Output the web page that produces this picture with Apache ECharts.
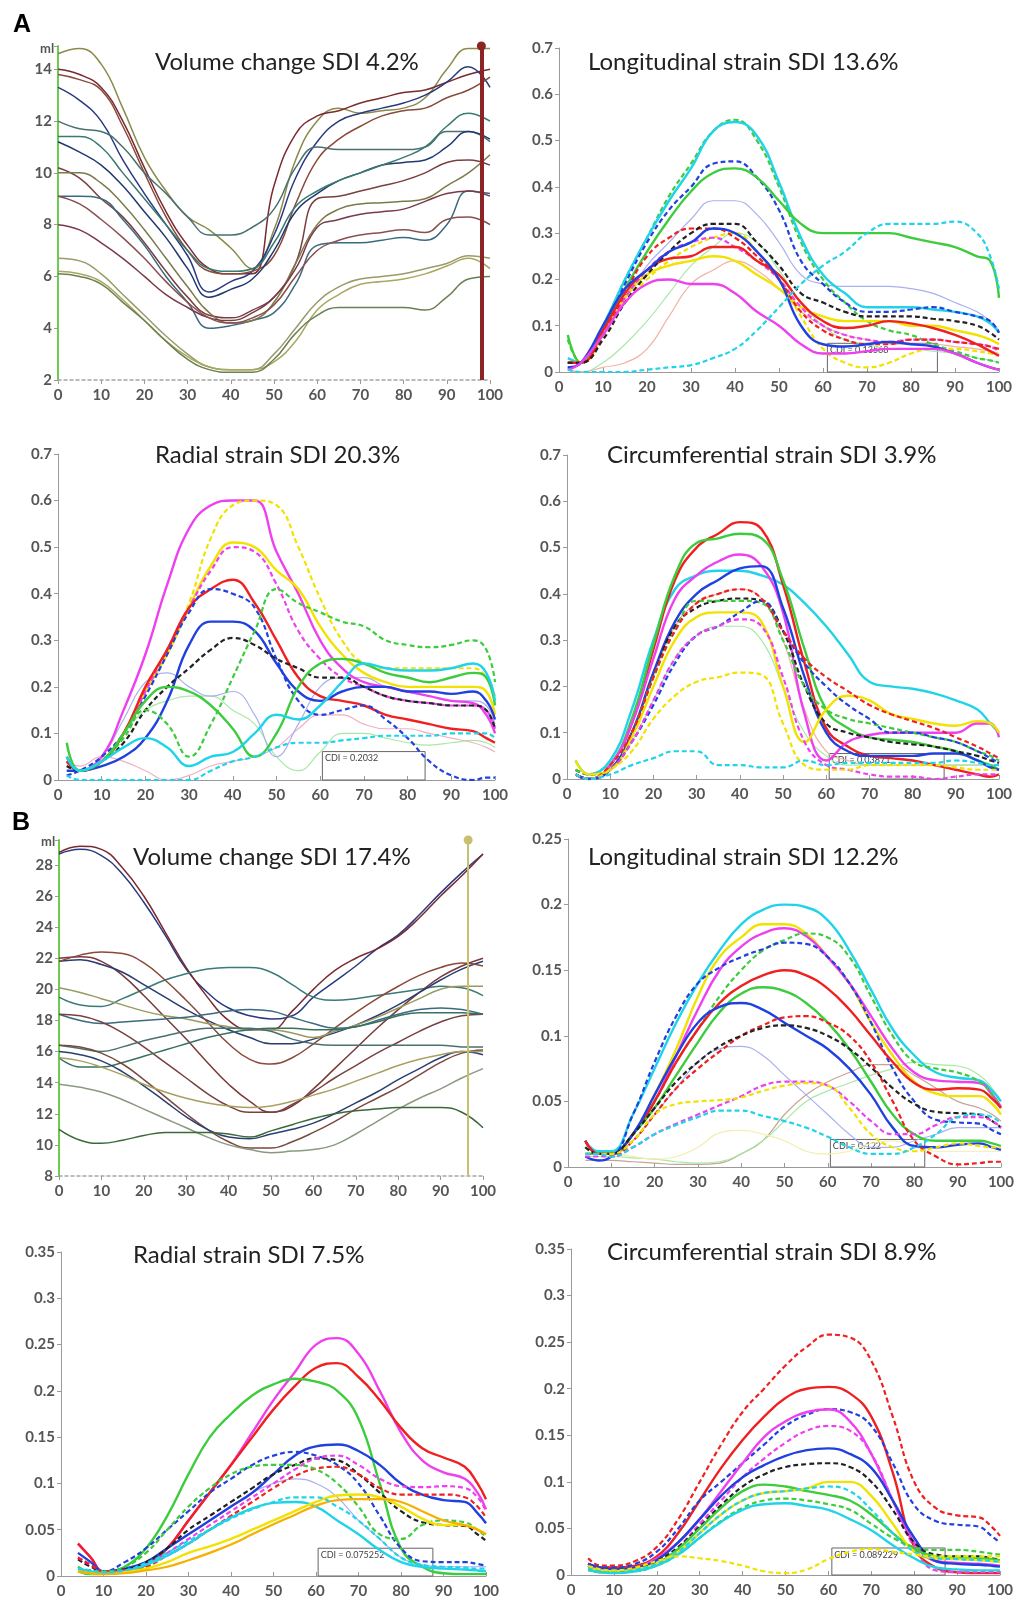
<!DOCTYPE html>
<html>
<head>
<meta charset="utf-8">
<script src="https://cdn.jsdelivr.net/npm/echarts@6/dist/echarts.min.js"></script>
<style>
  html, body { margin: 0; padding: 0; background: #fff; }
  #chart { width: 1017px; height: 1602px; }
</style>
</head>
<body>
<div id="chart"></div>
<script>
// x samples (percent of cycle)
var xVol = [0,5,10,15,20,25,30,35,40,45,50,55,60,65,70,75,80,85,90,95,100];
var xStrainA = [2,5,10,15,20,25,30,35,40,45,50,55,60,65,70,75,80,85,90,95,98,100];
var xStrainB = [4,7,10,15,20,25,30,35,40,45,50,55,60,65,70,75,80,85,90,95,98,100];

// ---- A: volume change (ml) ----
var volA = [
  [14.6,14.8,14.2,12.5,10.6,9.3,8.3,7.8,7.1,6.3,7.8,10.5,12.0,12.5,12.3,12.4,12.5,12.9,14.0,14.8,14.8],
  [14.0,13.8,13.3,12.0,10.2,8.5,7.2,6.3,6.1,6.1,9.5,11.5,12.2,12.4,12.7,12.9,13.1,13.2,13.5,13.8,14.0],
  [13.3,12.8,12.0,10.5,9.2,8.0,6.8,5.4,5.8,6.2,7.6,9.8,11.2,12.0,12.3,12.5,12.7,13.0,13.5,14.1,13.3],
  [13.8,13.6,13.2,11.8,10.0,8.3,7.0,6.2,6.1,6.2,6.8,8.8,10.5,11.3,11.8,12.2,12.4,12.5,12.9,13.2,13.7],
  [12.0,11.7,11.6,11.0,10.0,9.2,8.3,7.6,7.6,7.9,8.6,10.2,11.0,10.9,10.9,10.9,10.9,11.0,11.6,11.6,11.2],
  [11.2,10.8,10.3,9.5,8.5,7.5,6.3,5.2,5.5,5.9,7.0,8.5,9.2,9.7,10.0,10.3,10.4,10.5,11.0,11.6,11.3],
  [11.4,11.4,11.0,10.0,9.0,8.0,7.0,6.3,6.2,6.3,7.3,8.7,9.3,9.7,10.0,10.3,10.6,11.0,11.8,12.3,12.0],
  [10.2,9.8,9.0,8.3,7.3,6.2,5.2,4.5,4.4,4.7,5.2,6.5,9.0,9.1,9.3,9.5,9.7,10.0,10.4,10.5,10.3],
  [9.1,9.1,9.0,8.2,7.2,6.0,5.0,4.0,4.1,4.3,4.6,5.7,7.2,7.3,7.3,7.4,7.5,7.4,8.0,9.3,9.2],
  [10.0,10.0,9.6,8.8,7.8,6.7,5.6,4.6,4.2,4.3,5.0,6.5,8.0,8.6,8.8,8.85,8.9,9.0,9.5,10.0,10.7],
  [8.0,7.8,7.3,6.7,6.0,5.3,4.8,4.4,4.3,4.6,5.2,6.3,7.9,8.2,8.4,8.5,8.6,8.9,9.2,9.3,9.1],
  [6.7,6.6,6.1,5.3,4.5,3.7,3.0,2.5,2.4,2.4,3.0,4.0,5.0,5.6,5.9,6.0,6.1,6.3,6.5,6.8,6.7],
  [6.2,6.1,5.8,5.1,4.3,3.5,2.9,2.5,2.4,2.4,2.7,3.5,4.7,5.3,5.7,5.8,5.9,6.1,6.4,6.7,6.3],
  [6.1,6.0,5.7,5.0,4.3,3.5,2.8,2.4,2.3,2.3,2.8,3.8,4.5,4.8,4.8,4.8,4.8,4.7,5.2,5.9,6.0],
  [9.1,8.8,8.2,7.5,6.7,5.8,5.0,4.4,4.2,4.4,4.9,6.0,7.0,7.4,7.6,7.7,7.8,7.7,8.2,8.3,8.0]
];
var volAColors = ['#8a8a4a','#7a2a30','#2a3a80','#8a4a3a','#4a7070','#203a70','#3a7a70','#7a4040',
  '#3a6a80','#7a7a4a','#7a3a4a','#9a9a6a','#a8a860','#6a8050','#8a5050'];

// ---- A: longitudinal strain ----
var longA = [
  [0.005,0,0.02,0.06,0.11,0.17,0.23,0.27,0.30,0.28,0.22,0.15,0.10,0.07,0.06,0.05,0.05,0.045,0.04,0.03,0.025,0.02],
  [0.005,0,0.01,0.02,0.05,0.12,0.19,0.22,0.24,0.22,0.18,0.13,0.10,0.08,0.07,0.06,0.06,0.06,0.055,0.05,0.045,0.04],
  [0.01,0.02,0.08,0.16,0.23,0.28,0.33,0.37,0.37,0.34,0.28,0.21,0.19,0.185,0.185,0.185,0.18,0.17,0.15,0.13,0.11,0.09],
  [0.07,0.02,0.10,0.20,0.29,0.38,0.45,0.52,0.545,0.50,0.40,0.28,0.20,0.15,0.11,0.09,0.08,0.06,0.045,0.03,0.025,0.02],
  [0.03,0.02,0.10,0.20,0.29,0.37,0.44,0.52,0.54,0.51,0.41,0.29,0.21,0.17,0.14,0.14,0.14,0.135,0.13,0.12,0.105,0.085],
  [0.02,0.02,0.09,0.19,0.28,0.35,0.40,0.45,0.455,0.42,0.35,0.24,0.19,0.15,0.13,0.13,0.135,0.14,0.13,0.12,0.11,0.085],
  [0.08,0.02,0.09,0.18,0.26,0.33,0.39,0.43,0.44,0.42,0.37,0.32,0.30,0.30,0.30,0.30,0.29,0.28,0.27,0.25,0.24,0.16],
  [0.02,0.02,0.08,0.15,0.20,0.24,0.27,0.29,0.30,0.26,0.20,0.12,0.05,0.02,0.01,0.02,0.04,0.05,0.05,0.045,0.04,0.035],
  [0.02,0.02,0.08,0.16,0.21,0.23,0.24,0.25,0.24,0.21,0.18,0.14,0.12,0.11,0.11,0.11,0.10,0.10,0.09,0.08,0.07,0.06],
  [0.01,0.02,0.08,0.16,0.22,0.26,0.28,0.29,0.27,0.24,0.20,0.14,0.10,0.08,0.07,0.065,0.07,0.07,0.065,0.06,0.055,0.045],
  [0.02,0.02,0.08,0.17,0.25,0.29,0.31,0.31,0.29,0.25,0.20,0.13,0.09,0.07,0.06,0.06,0.07,0.07,0.065,0.06,0.055,0.05],
  [0.02,0.02,0.09,0.17,0.22,0.245,0.25,0.27,0.27,0.24,0.21,0.15,0.11,0.095,0.10,0.11,0.105,0.095,0.08,0.06,0.045,0.035],
  [0.02,0.02,0.07,0.15,0.21,0.26,0.30,0.32,0.32,0.28,0.23,0.17,0.15,0.13,0.12,0.12,0.12,0.115,0.11,0.10,0.085,0.07],
  [0.01,0.02,0.10,0.18,0.22,0.26,0.28,0.31,0.30,0.26,0.20,0.10,0.06,0.055,0.06,0.065,0.06,0.055,0.04,0.02,0.01,0.005],
  [0.005,0.02,0.08,0.15,0.19,0.20,0.19,0.19,0.17,0.13,0.10,0.06,0.04,0.04,0.045,0.05,0.05,0.05,0.04,0.02,0.01,0.005],
  [0.005,0,0,0,0.005,0.01,0.015,0.03,0.05,0.09,0.14,0.19,0.23,0.26,0.30,0.32,0.32,0.32,0.325,0.30,0.25,0.18]
];
var longAStyle = ['fg','fs','fl','gd','c','bd','g','yd','y','md','rd','r','kd','b','m','cd'];

// ---- A: radial strain ----
var radA = [
  [0.03,0.02,0.04,0.10,0.15,0.17,0.18,0.18,0.15,0.12,0.05,0.02,0.06,0.10,0.10,0.09,0.08,0.075,0.08,0.085,0.08,0.07],
  [0.04,0.03,0.05,0.04,0.02,0.0,0.01,0.03,0.04,0.05,0.07,0.11,0.14,0.14,0.12,0.11,0.11,0.10,0.09,0.08,0.07,0.06],
  [0.02,0.02,0.05,0.13,0.21,0.23,0.20,0.18,0.19,0.14,0.05,0.12,0.20,0.22,0.22,0.20,0.19,0.18,0.17,0.17,0.16,0.12],
  [0.05,0.02,0.05,0.15,0.27,0.42,0.54,0.59,0.60,0.60,0.49,0.40,0.30,0.24,0.21,0.20,0.19,0.18,0.17,0.165,0.14,0.10],
  [0.04,0.02,0.04,0.10,0.20,0.28,0.38,0.52,0.59,0.60,0.59,0.50,0.39,0.30,0.25,0.24,0.24,0.24,0.24,0.24,0.22,0.18],
  [0.04,0.02,0.04,0.10,0.19,0.27,0.37,0.46,0.51,0.50,0.45,0.41,0.33,0.27,0.23,0.21,0.20,0.20,0.20,0.20,0.19,0.14],
  [0.04,0.02,0.04,0.10,0.19,0.28,0.37,0.45,0.50,0.49,0.42,0.32,0.26,0.22,0.20,0.18,0.17,0.165,0.16,0.16,0.15,0.11],
  [0.04,0.02,0.04,0.10,0.20,0.28,0.37,0.41,0.43,0.38,0.30,0.22,0.18,0.17,0.16,0.14,0.13,0.12,0.11,0.105,0.09,0.08],
  [0.01,0.02,0.05,0.10,0.18,0.27,0.36,0.41,0.40,0.37,0.26,0.17,0.14,0.15,0.16,0.13,0.09,0.04,0.01,0.0,0.005,0.005],
  [0.02,0.02,0.03,0.05,0.09,0.17,0.29,0.34,0.34,0.32,0.25,0.19,0.17,0.19,0.20,0.20,0.19,0.19,0.185,0.19,0.17,0.13],
  [0.03,0.02,0.04,0.08,0.15,0.20,0.24,0.28,0.305,0.29,0.26,0.24,0.22,0.22,0.20,0.18,0.17,0.165,0.16,0.16,0.15,0.11],
  [0.05,0.02,0.04,0.09,0.15,0.12,0.05,0.12,0.22,0.32,0.41,0.38,0.36,0.34,0.33,0.30,0.29,0.285,0.29,0.30,0.28,0.21],
  [0.08,0.02,0.04,0.10,0.17,0.20,0.19,0.16,0.11,0.05,0.10,0.20,0.25,0.26,0.25,0.23,0.22,0.21,0.22,0.23,0.22,0.16],
  [0.05,0.02,0.04,0.07,0.09,0.07,0.03,0.05,0.06,0.10,0.14,0.13,0.16,0.21,0.25,0.24,0.235,0.235,0.24,0.25,0.23,0.17],
  [0.01,0,0,0,0,0,0,0.02,0.04,0.05,0.07,0.08,0.08,0.085,0.09,0.095,0.095,0.095,0.10,0.10,0.10,0.09]
];
var radAStyle = ['fg','fp','fl','m','yd','y','md','r','bd','b','kd','gd','g','c','cd'];

// ---- A: circumferential strain ----
var circA = [
  [0.01,0,0.02,0.10,0.22,0.33,0.38,0.40,0.41,0.39,0.30,0.15,0.06,0.04,0.03,0.03,0.03,0.03,0.03,0.03,0.03,0.03],
  [0.01,0,0.02,0.08,0.17,0.26,0.31,0.33,0.33,0.30,0.20,0.10,0.05,0.03,0.03,0.03,0.03,0.03,0.03,0.03,0.03,0.03],
  [0.04,0.01,0.04,0.15,0.30,0.41,0.44,0.45,0.45,0.44,0.42,0.38,0.33,0.27,0.21,0.20,0.195,0.185,0.17,0.15,0.12,0.10],
  [0.01,0,0.03,0.12,0.28,0.43,0.50,0.53,0.555,0.54,0.42,0.25,0.11,0.07,0.05,0.045,0.04,0.03,0.02,0.01,0.005,0.01],
  [0.01,0,0.03,0.13,0.29,0.44,0.51,0.52,0.53,0.52,0.43,0.28,0.15,0.11,0.09,0.085,0.08,0.07,0.06,0.04,0.03,0.02],
  [0.01,0,0.03,0.12,0.26,0.39,0.44,0.47,0.485,0.46,0.36,0.14,0.04,0.08,0.095,0.10,0.10,0.10,0.10,0.12,0.12,0.09],
  [0.01,0,0.02,0.10,0.23,0.34,0.40,0.43,0.455,0.46,0.37,0.22,0.10,0.06,0.05,0.05,0.05,0.055,0.055,0.04,0.025,0.02],
  [0.02,0.01,0.02,0.10,0.22,0.33,0.37,0.385,0.39,0.385,0.32,0.20,0.12,0.10,0.09,0.08,0.075,0.07,0.06,0.05,0.04,0.035],
  [0.02,0.01,0.02,0.10,0.22,0.32,0.385,0.385,0.385,0.38,0.30,0.20,0.15,0.13,0.12,0.11,0.10,0.09,0.08,0.06,0.05,0.04],
  [0.04,0.01,0.02,0.09,0.20,0.30,0.35,0.36,0.36,0.34,0.20,0.08,0.15,0.18,0.17,0.14,0.13,0.12,0.115,0.125,0.12,0.10],
  [0.01,0,0.02,0.08,0.16,0.25,0.31,0.33,0.36,0.385,0.32,0.25,0.20,0.16,0.13,0.10,0.10,0.09,0.08,0.06,0.045,0.035],
  [0.01,0,0.03,0.10,0.22,0.32,0.38,0.40,0.41,0.39,0.32,0.26,0.22,0.19,0.16,0.14,0.125,0.11,0.09,0.07,0.055,0.045],
  [0.01,0,0.02,0.08,0.17,0.26,0.31,0.33,0.345,0.33,0.22,0.08,0.03,0.02,0.01,0.005,0.005,0,0.005,0.01,0.01,0.01],
  [0.01,0,0.02,0.06,0.13,0.18,0.21,0.22,0.23,0.225,0.12,0.03,0.02,0.02,0.03,0.03,0.03,0.03,0.025,0.02,0.02,0.02],
  [0.01,0,0.01,0.03,0.045,0.06,0.06,0.03,0.03,0.025,0.025,0.04,0.03,0.035,0.035,0.035,0.035,0.035,0.04,0.035,0.03,0.03]
];
var circAStyle = ['fs','fg','c','r','g','m','b','kd','gd','y','bd','rd','md','yd','cd'];

// ---- B: volume change (ml) ----
var volB = [
  [28.7,29.0,28.6,27.4,25.6,23.5,21.3,19.8,18.8,18.3,18.1,18.3,19.5,20.5,21.5,22.6,23.5,24.8,26.2,27.5,28.7],
  [28.8,29.2,29.0,27.8,26.0,23.7,21.4,19.5,18.0,17.4,17.4,18.6,20.0,21.2,22.0,22.6,23.4,24.6,26.0,27.3,28.7],
  [19.5,19.0,18.9,19.4,20.0,20.6,21.0,21.3,21.4,21.4,21.1,20.3,19.5,19.3,19.4,19.6,19.8,20.0,20.2,20.1,19.6],
  [22.0,22.1,21.8,20.9,19.6,18.2,16.8,15.3,13.9,12.8,12.1,12.5,13.6,14.9,16.2,17.5,18.7,19.8,20.8,21.5,22.0],
  [21.8,21.9,21.6,21.1,20.3,19.5,18.7,18.0,17.4,16.9,16.5,16.5,16.8,17.2,17.7,18.3,19.0,19.8,20.6,21.3,21.8],
  [21.8,22.2,22.4,22.3,21.7,20.6,19.3,17.9,16.5,15.5,15.2,15.6,16.5,17.5,18.5,19.4,20.2,20.9,21.4,21.7,21.5],
  [20.1,19.8,19.4,19.0,18.6,18.3,18.1,17.8,17.6,17.4,17.4,17.2,16.9,17.3,17.7,18.2,18.8,19.4,20.0,20.2,20.2],
  [18.4,18.0,17.8,17.9,18.0,18.1,18.2,18.4,18.6,18.7,18.6,18.2,17.8,17.5,17.6,18.0,18.4,18.7,18.8,18.7,18.4],
  [18.4,18.3,17.9,17.2,16.3,15.3,14.3,13.3,12.5,12.1,12.1,12.6,13.4,14.3,15.1,15.9,16.6,17.3,17.9,18.3,18.4],
  [15.6,15.0,15.0,15.3,15.7,16.1,16.5,16.9,17.2,17.4,17.5,17.5,17.4,17.4,17.6,17.9,18.3,18.5,18.5,18.5,18.4],
  [16.4,16.2,16.0,16.3,16.7,17.0,17.3,17.5,17.5,17.5,17.3,16.8,16.5,16.4,16.4,16.4,16.4,16.4,16.4,16.3,16.3],
  [16.4,16.3,15.9,15.2,14.2,13.1,12.0,11.0,10.2,9.8,9.8,10.2,10.8,11.5,12.3,13.0,13.7,14.5,15.3,15.9,16.1],
  [16.0,15.8,15.4,14.7,13.8,12.8,11.8,11.0,10.5,10.4,10.7,11.0,11.4,12.0,12.7,13.4,14.2,14.9,15.6,16.0,15.8],
  [15.6,15.4,15.0,14.5,13.9,13.4,13.0,12.7,12.5,12.4,12.5,12.8,13.2,13.6,14.1,14.6,15.1,15.5,15.8,16.0,16.0],
  [13.9,13.7,13.4,12.9,12.3,11.7,11.1,10.5,10.0,9.7,9.5,9.6,9.7,10.0,10.7,11.5,12.3,13.0,13.6,14.3,14.9],
  [11.0,10.3,10.1,10.3,10.6,10.8,10.8,10.8,10.7,10.5,10.9,11.3,11.7,12.0,12.2,12.3,12.4,12.4,12.4,12.1,11.1]
];
var volBColors = ['#2a3a80','#7a2a30','#3a7a78','#7a3a3a','#2a3c70','#8a4a3a','#9a9a60','#3a6a80',
  '#7a4040','#3a7060','#4a7070','#7a4a40','#2a4070','#a8a060','#8a9a80','#3a6a3a'];

// ---- B: longitudinal strain ----
var longB = [
  [0.005,0.005,0.005,0.004,0.003,0.002,0.002,0.003,0.01,0.02,0.04,0.055,0.065,0.072,0.078,0.078,0.07,0.06,0.05,0.045,0.04,0.035],
  [0.008,0.008,0.008,0.007,0.006,0.004,0.003,0.004,0.01,0.02,0.035,0.05,0.058,0.064,0.07,0.075,0.08,0.078,0.077,0.07,0.06,0.05],
  [0.01,0.01,0.01,0.008,0.006,0.008,0.015,0.026,0.028,0.025,0.02,0.012,0.01,0.012,0.018,0.02,0.015,0.012,0.012,0.012,0.012,0.012],
  [0.01,0.01,0.01,0.02,0.04,0.06,0.08,0.09,0.092,0.085,0.07,0.055,0.04,0.025,0.015,0.015,0.02,0.025,0.03,0.03,0.03,0.03],
  [0.02,0.012,0.012,0.04,0.075,0.11,0.14,0.165,0.185,0.196,0.20,0.198,0.188,0.165,0.135,0.105,0.085,0.072,0.068,0.066,0.058,0.05],
  [0.02,0.01,0.01,0.025,0.055,0.09,0.13,0.16,0.175,0.185,0.185,0.178,0.16,0.14,0.11,0.085,0.065,0.056,0.054,0.054,0.048,0.04],
  [0.02,0.01,0.01,0.025,0.05,0.085,0.12,0.15,0.168,0.178,0.182,0.176,0.16,0.14,0.115,0.09,0.072,0.066,0.065,0.064,0.055,0.046],
  [0.015,0.01,0.01,0.025,0.05,0.08,0.105,0.13,0.15,0.165,0.173,0.178,0.175,0.16,0.13,0.10,0.08,0.075,0.072,0.065,0.055,0.045],
  [0.02,0.01,0.01,0.04,0.08,0.115,0.14,0.152,0.16,0.166,0.171,0.17,0.16,0.14,0.11,0.075,0.05,0.036,0.034,0.033,0.028,0.025],
  [0.02,0.01,0.01,0.025,0.05,0.08,0.105,0.125,0.138,0.146,0.15,0.146,0.136,0.12,0.10,0.08,0.064,0.059,0.06,0.059,0.052,0.045],
  [0.01,0.01,0.01,0.025,0.045,0.07,0.095,0.118,0.132,0.137,0.134,0.125,0.11,0.09,0.065,0.04,0.025,0.02,0.02,0.02,0.018,0.016],
  [0.008,0.005,0.008,0.025,0.055,0.085,0.11,0.122,0.125,0.12,0.11,0.10,0.09,0.075,0.055,0.03,0.016,0.015,0.017,0.018,0.015,0.013],
  [0.01,0.01,0.008,0.02,0.04,0.06,0.075,0.088,0.10,0.108,0.114,0.115,0.11,0.10,0.08,0.05,0.02,0.008,0.002,0.003,0.004,0.004],
  [0.015,0.01,0.01,0.025,0.045,0.065,0.08,0.092,0.10,0.106,0.108,0.106,0.10,0.09,0.076,0.06,0.048,0.042,0.041,0.04,0.035,0.03],
  [0.008,0.008,0.008,0.015,0.025,0.033,0.04,0.047,0.054,0.062,0.065,0.065,0.062,0.05,0.035,0.025,0.025,0.032,0.038,0.038,0.035,0.03],
  [0.01,0.01,0.01,0.02,0.04,0.048,0.05,0.051,0.053,0.058,0.062,0.064,0.062,0.045,0.025,0.015,0.012,0.015,0.018,0.016,0.015,0.015],
  [0.01,0.01,0.008,0.015,0.025,0.032,0.038,0.043,0.043,0.039,0.035,0.03,0.023,0.015,0.01,0.01,0.015,0.025,0.038,0.04,0.038,0.033]
];
var longBStyle = ['fb','fg','fy','fl','c','y','m','gd','bd','r','g','b','rd','kd','md','yd','cd'];

// ---- B: radial strain ----
var radB = [
  [0.01,0.005,0.004,0.008,0.015,0.03,0.045,0.06,0.075,0.09,0.10,0.105,0.10,0.085,0.06,0.04,0.02,0.012,0.01,0.01,0.01,0.01],
  [0.035,0.02,0.005,0.005,0.012,0.03,0.06,0.09,0.12,0.155,0.19,0.22,0.25,0.257,0.24,0.20,0.155,0.125,0.112,0.105,0.09,0.072],
  [0.035,0.02,0.005,0.006,0.012,0.03,0.06,0.09,0.12,0.15,0.18,0.205,0.225,0.23,0.215,0.19,0.16,0.138,0.128,0.118,0.10,0.083],
  [0.005,0.002,0.003,0.01,0.03,0.065,0.11,0.15,0.175,0.195,0.207,0.213,0.21,0.20,0.17,0.10,0.03,0.01,0.003,0.002,0.002,0.002],
  [0.025,0.015,0.005,0.008,0.015,0.03,0.045,0.06,0.075,0.09,0.11,0.13,0.14,0.142,0.135,0.12,0.10,0.088,0.082,0.08,0.068,0.057],
  [0.008,0.006,0.005,0.015,0.03,0.05,0.07,0.09,0.105,0.12,0.13,0.134,0.13,0.12,0.10,0.065,0.03,0.016,0.015,0.015,0.013,0.011],
  [0.018,0.01,0.005,0.007,0.015,0.03,0.05,0.065,0.08,0.095,0.11,0.12,0.127,0.125,0.11,0.09,0.07,0.058,0.055,0.054,0.045,0.038],
  [0.02,0.012,0.005,0.006,0.012,0.025,0.04,0.055,0.07,0.085,0.10,0.115,0.127,0.13,0.12,0.105,0.097,0.096,0.097,0.095,0.085,0.07],
  [0.02,0.012,0.005,0.006,0.01,0.022,0.035,0.05,0.065,0.08,0.095,0.108,0.116,0.118,0.11,0.095,0.088,0.088,0.088,0.085,0.075,0.063],
  [0.01,0.005,0.005,0.01,0.025,0.05,0.075,0.095,0.11,0.118,0.12,0.12,0.115,0.10,0.075,0.045,0.04,0.055,0.06,0.058,0.05,0.042],
  [0.008,0.005,0.003,0.005,0.012,0.022,0.035,0.05,0.063,0.073,0.079,0.08,0.075,0.06,0.045,0.028,0.015,0.01,0.008,0.007,0.006,0.005],
  [0.005,0.003,0.002,0.004,0.008,0.015,0.025,0.032,0.04,0.05,0.06,0.07,0.08,0.087,0.088,0.085,0.075,0.062,0.055,0.055,0.05,0.045],
  [0.005,0.003,0.002,0.003,0.006,0.01,0.017,0.025,0.034,0.045,0.056,0.066,0.076,0.082,0.083,0.083,0.08,0.07,0.06,0.055,0.05,0.045],
  [0.008,0.006,0.004,0.006,0.014,0.025,0.038,0.05,0.062,0.072,0.08,0.085,0.085,0.075,0.06,0.04,0.02,0.012,0.01,0.009,0.008,0.008]
];
var radBStyle = ['fl','m','r','g','b','bd','kd','md','rd','gd','c','y','o','cd'];

// ---- B: circumferential strain ----
var circB = [
  [0.018,0.01,0.01,0.015,0.03,0.06,0.10,0.14,0.175,0.20,0.225,0.245,0.258,0.255,0.23,0.17,0.10,0.072,0.064,0.062,0.052,0.042],
  [0.012,0.008,0.008,0.01,0.02,0.045,0.08,0.115,0.145,0.17,0.19,0.20,0.202,0.195,0.17,0.11,0.03,0.008,0.003,0.002,0.002,0.002],
  [0.012,0.008,0.008,0.012,0.025,0.05,0.08,0.10,0.12,0.14,0.16,0.172,0.178,0.175,0.16,0.12,0.075,0.058,0.054,0.052,0.042,0.035],
  [0.01,0.006,0.006,0.008,0.018,0.035,0.06,0.09,0.12,0.148,0.165,0.175,0.178,0.165,0.13,0.08,0.035,0.015,0.013,0.012,0.011,0.01],
  [0.01,0.006,0.006,0.008,0.015,0.03,0.055,0.08,0.105,0.125,0.142,0.155,0.16,0.155,0.13,0.08,0.03,0.005,0.003,0.003,0.003,0.003],
  [0.012,0.008,0.006,0.008,0.016,0.035,0.06,0.085,0.105,0.118,0.128,0.134,0.136,0.13,0.115,0.08,0.04,0.015,0.012,0.011,0.01,0.009],
  [0.01,0.006,0.005,0.008,0.015,0.03,0.052,0.075,0.095,0.108,0.116,0.119,0.12,0.116,0.10,0.07,0.035,0.022,0.02,0.02,0.018,0.016],
  [0.006,0.003,0.003,0.005,0.012,0.028,0.05,0.072,0.09,0.097,0.095,0.09,0.086,0.08,0.065,0.045,0.028,0.02,0.018,0.018,0.017,0.016],
  [0.008,0.005,0.004,0.006,0.012,0.025,0.045,0.065,0.08,0.088,0.09,0.093,0.10,0.10,0.085,0.055,0.025,0.018,0.017,0.016,0.015,0.014],
  [0.008,0.005,0.004,0.006,0.012,0.025,0.045,0.065,0.08,0.088,0.09,0.093,0.095,0.09,0.07,0.045,0.025,0.018,0.017,0.016,0.015,0.014],
  [0.006,0.003,0.003,0.004,0.01,0.022,0.04,0.058,0.072,0.08,0.082,0.08,0.076,0.07,0.055,0.04,0.03,0.027,0.027,0.025,0.023,0.022],
  [0.005,0.003,0.002,0.004,0.01,0.022,0.04,0.057,0.07,0.076,0.077,0.074,0.07,0.06,0.048,0.032,0.018,0.008,0.006,0.005,0.005,0.005],
  [0.01,0.006,0.005,0.008,0.015,0.02,0.018,0.015,0.01,0.004,0.002,0.006,0.017,0.025,0.028,0.025,0.022,0.02,0.02,0.02,0.02,0.02]
];
var circBStyle = ['rd','r','bd','m','md','b','kd','g','y','cd','gd','c','yd'];

// CDI boxes [x0, x1, yTop] and texts
var cdiText = ['CDI = 0.13568','CDI = 0.2032','CDI = 0.03871','CDI = 0.122','CDI = 0.075252','CDI = 0.089229'];
var cdiBox = [[61,86,0.062],[60.5,84,0.061],[60.7,87.3,0.055],[60.6,82.4,0.021],[60.5,87.5,0.03],[60.8,87.2,0.029]];

var titles = ['Volume change SDI 4.2%','Longitudinal strain SDI 13.6%','Radial strain SDI 20.3%',
  'Circumferential strain SDI 3.9%','Volume change SDI 17.4%','Longitudinal strain SDI 12.2%',
  'Radial strain SDI 7.5%','Circumferential strain SDI 8.9%'];

// ---------------- layout & styles ----------------
var FONT = 'Lato, "Open Sans", sans-serif';
var S = {
  c:['#1fd4e8','solid',2.4], cd:['#1fd4e8','dashed',2.2],
  g:['#3ccc3c','solid',2.4], gd:['#3ccc3c','dashed',2.2],
  b:['#2040e0','solid',2.4], bd:['#2040e0','dashed',2.2],
  r:['#f02020','solid',2.4], rd:['#f02020','dashed',2.2],
  m:['#ee40ee','solid',2.4], md:['#ee40ee','dashed',2.2],
  y:['#f2e200','solid',2.4], yd:['#f2e200','dashed',2.2],
  o:['#f6b000','solid',2.2], kd:['#222222','dashed',2.2],
  fl:['#aab0f0','solid',1.2], fg:['#a6eaa6','solid',1.2], fs:['#f2b2a6','solid',1.2],
  fy:['#f2eeaa','solid',1.2], fb:['#c8a494','solid',1.2], fp:['#f4b0c4','solid',1.2]
};

var grids = [
  {left:58, top:46, width:432, height:334},
  {left:559, top:48, width:440, height:324},
  {left:58, top:454, width:437, height:326},
  {left:567, top:455, width:432, height:324},
  {left:59, top:840, width:424, height:336},
  {left:568, top:839, width:435, height:328},
  {left:61, top:1252, width:425, height:324},
  {left:571, top:1249, width:429, height:326}
];
var yRange = [[2,14.9,2],[0,0.7,0.1],[0,0.7,0.1],[0,0.7,0.1],[8,29.6,2],[0,0.25,0.05],[0,0.35,0.05],[0,0.35,0.05]];
var titlePos = [[150,45],[583,45],[150,438],[602,438],[128,840],[583,840],[128,1238],[602,1235]];

var isVolGrid = function (i) { return i === 0 || i === 4; };

var xAxes = grids.map(function (g, i) {
  var vol = isVolGrid(i);
  return {
    gridIndex: i, type: 'value', min: 0, max: 100, interval: 10,
    axisLine: {lineStyle: vol ? {color: '#a0a8a0', type: [3, 3], width: 1.5} : {color: '#9a9a9a'}},
    axisTick: {show: true, inside: !vol, length: 4, lineStyle: {color: '#9a9a9a'}},
    axisLabel: {color: '#555', fontSize: 15, fontWeight: 'bold', fontFamily: FONT, margin: 8},
    splitLine: {show: false}
  };
});
var yAxes = grids.map(function (g, i) {
  var vol = isVolGrid(i);
  var r = yRange[i];
  return {
    gridIndex: i, type: 'value', min: r[0], max: r[1], interval: r[2],
    axisLine: {show: true, lineStyle: vol ? {color: '#6ccc4c', width: 2} : {color: '#9a9a9a'}},
    axisTick: {show: true, length: 4, lineStyle: {color: '#9a9a9a'}},
    axisLabel: {
      color: '#555', fontSize: 15, fontWeight: 'bold', fontFamily: FONT, margin: 6,
      formatter: function (v) {
        if (vol) return (Math.abs(v % 2) < 1e-9) ? String(v) : '';
        var k = Math.round(v / r[2]);
        if (Math.abs(v - k * r[2]) > 1e-9) return '';
        return String(Math.round(v * 100) / 100);
      }
    },
    splitLine: {show: false}
  };
});

var series = [];
function addPanel(gi, xs, rows, styles, isVol) {
  rows.forEach(function (row, i) {
    var st = isVol ? [styles[i], 'solid', 1.5] : S[styles[i]];
    var faint = !isVol && styles[i].charAt(0) === 'f';
    series.push({
      type: 'line', xAxisIndex: gi, yAxisIndex: gi,
      data: row.map(function (v, k) { return [xs[k], v]; }),
      smooth: 0.45, symbol: 'none', silent: true,
      z: faint ? 1 : 2,
      lineStyle: {color: st[0], width: st[2], type: st[1] === 'dashed' ? [5, 3] : 'solid'}
    });
  });
}
addPanel(0, xVol, volA, volAColors, true);
addPanel(1, xStrainA, longA, longAStyle, false);
addPanel(2, xStrainA, radA, radAStyle, false);
addPanel(3, xStrainA, circA, circAStyle, false);
addPanel(4, xVol, volB, volBColors, true);
addPanel(5, xStrainB, longB, longBStyle, false);
addPanel(6, xStrainB, radB, radBStyle, false);
addPanel(7, xStrainB, circB, circBStyle, false);

// cursor lines in the volume panels
var cursors = [[0, 98, '#8b2424', 4], [4, 96.5, '#c8c070', 2]];
cursors.forEach(function (c) {
  series.push({
    type: 'line', xAxisIndex: c[0], yAxisIndex: c[0], data: [], silent: true,
    markLine: {
      silent: true, symbol: ['none', 'circle'], symbolSize: 9, label: {show: false},
      lineStyle: {color: c[2], width: c[3], type: 'solid'},
      data: [{xAxis: c[1]}]
    }
  });
});

// CDI boxes
[1, 2, 3, 5, 6, 7].forEach(function (gi, k) {
  var b = cdiBox[k];
  series.push({
    type: 'line', xAxisIndex: gi, yAxisIndex: gi, data: [], silent: true,
    markArea: {
      silent: true,
      itemStyle: {color: 'rgba(255,255,255,0)', borderColor: '#666', borderWidth: 1},
      label: {show: true, position: 'insideTopLeft', formatter: cdiText[k], fontSize: 9,
        color: '#444', fontFamily: FONT, distance: 3},
      data: [[{xAxis: b[0], yAxis: 0}, {xAxis: b[1], yAxis: b[2]}]]
    }
  });
});

var titleList = titles.map(function (t, i) {
  return {text: t, left: titlePos[i][0], top: titlePos[i][1],
    textStyle: {fontFamily: FONT, fontSize: 24, fontWeight: 'normal', color: '#222'}};
});
titleList.push({text: 'A', left: 8, top: 8, textStyle: {fontFamily: 'Liberation Sans, Arial', fontSize: 25, fontWeight: 'bold', color: '#000'}});
titleList.push({text: 'B', left: 7, top: 806, textStyle: {fontFamily: 'Liberation Sans, Arial', fontSize: 25, fontWeight: 'bold', color: '#000'}});
titleList.push({text: 'ml', left: 35, top: 37, textStyle: {fontFamily: FONT, fontSize: 13, fontWeight: 'bold', color: '#555'}});
titleList.push({text: 'ml', left: 36, top: 830, textStyle: {fontFamily: FONT, fontSize: 13, fontWeight: 'bold', color: '#555'}});

var chart = echarts.init(document.getElementById('chart'));
chart.setOption({
  animation: false,
  backgroundColor: '#fff',
  title: titleList,
  grid: grids,
  xAxis: xAxes,
  yAxis: yAxes,
  series: series
});
</script>
</body>
</html>
